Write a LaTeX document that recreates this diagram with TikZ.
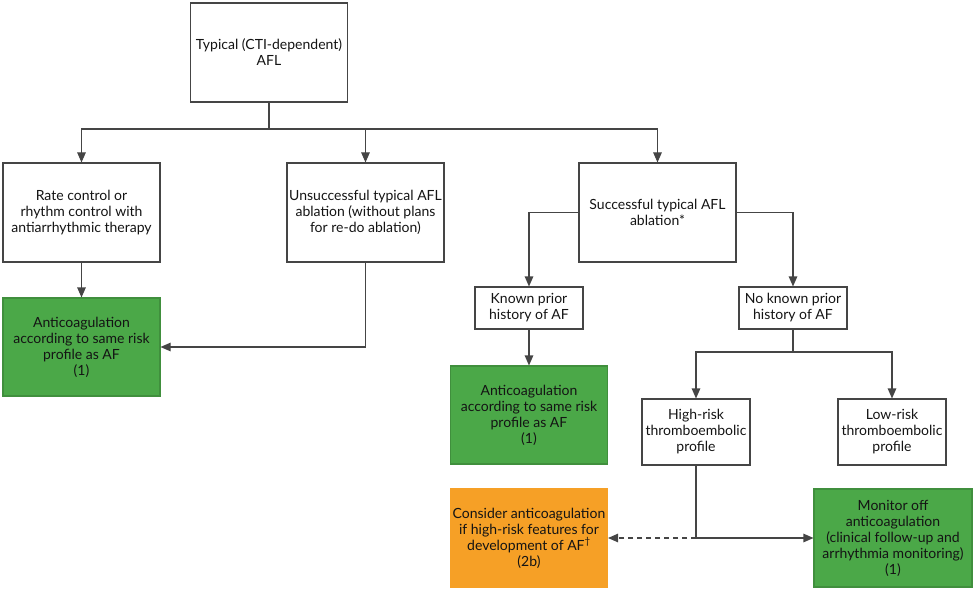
\documentclass[tikz,border=0pt]{standalone}
\usepackage{fontspec}
\setmainfont{Lato}
\usepackage{xcolor}
\definecolor{linegray}{HTML}{454545}
\definecolor{recgreen}{HTML}{4BA848}
\definecolor{recorange}{HTML}{F6A026}
\definecolor{textdark}{HTML}{141414}
\usetikzlibrary{arrows.meta,positioning}

\begin{document}
\begin{tikzpicture}[
    x=1pt, y=-1pt,
    box/.style={rectangle, draw=linegray, fill=white, text=textdark, line width=1.1pt, align=center, font=\fontsize{14}{16}\selectfont, inner sep=2pt},
    wide/.style={box, minimum width=157pt, minimum height=99pt},
    small/.style={box, minimum width=108pt},
    green/.style={wide, fill=recgreen, draw=recgreen!85!black},
    orange/.style={wide, fill=recorange, draw=recorange},
    arr/.style={draw=linegray, line width=1.1pt, -{Triangle[length=10pt,width=8.5pt]}},
    link/.style={draw=linegray, line width=1.1pt},
  ]
    \useasboundingbox (0,0) rectangle (975,591);
    % top level
    \node[wide] (top) at (269,52.5) {Typical (CTI-dependent)\\AFL};
    \node[wide] (rate) at (81.5,212.5) {Rate control or\\rhythm control with\\antiarrhythmic therapy};
    \node[wide] (unsucc) at (365.5,212.5) {Unsuccessful typical AFL\\ablation (without plans\\for re-do ablation)};
    \node[wide] (succ) at (657.5,212.5) {Successful typical AFL\\ablation*};
    \node[green, minimum height=98pt] (anticoagA) at (81.5,347) {Anticoagulation\\according to same risk\\profile as AF\\(1)};
    % after successful ablation
    \node[small, minimum height=42pt] (known) at (529,308) {Known prior\\history of AF};
    \node[small, minimum height=42pt] (noknown) at (793,308) {No known prior\\history of AF};
    \node[green, minimum height=98pt] (anticoagB) at (529,415) {Anticoagulation\\according to same risk\\profile as AF\\(1)};
    \node[small, minimum height=66pt] (highrisk) at (696,432) {High-risk\\thromboembolic\\profile};
    \node[small, minimum height=66pt] (lowrisk) at (892,432) {Low-risk\\thromboembolic\\profile};
    \node[orange, minimum height=98pt] (consider) at (529,538) {Consider anticoagulation\\if high-risk features for\\development of AF\textsuperscript{\textdagger}\\(2b)};
    \node[green, minimum height=98pt, minimum width=158pt] (monitor) at (893,538) {Monitor off\\anticoagulation\\(clinical follow-up and\\arrhythmia monitoring)\\(1)};
    % Connectors
    \coordinate (split) at (269,129);
    \coordinate (nksplit) at (793,352);
    \coordinate (hrsplit) at (696,538);
    \draw[link] (top.south) -- (split);
    \draw[arr] (split) -| (rate.north);
    \draw[arr] (split) -| (unsucc.north);
    \draw[arr] (split) -| (succ.north);
    \draw[arr] (rate.south) -- (anticoagA.north);
    \draw[arr] (unsucc.south) |- (anticoagA.east);
    \draw[arr] (succ.west) -| (known.north);
    \draw[arr] (succ.east) -| (noknown.north);
    \draw[arr] (known.south) -- (anticoagB.north);
    \draw[link] (noknown.south) -- (nksplit);
    \draw[arr] (nksplit) -| (highrisk.north);
    \draw[arr] (nksplit) -| (lowrisk.north);
    \draw[link] (highrisk.south) -- (hrsplit);
    \draw[arr] (hrsplit) -- (monitor.west);
    \draw[arr, dash pattern=on 5pt off 4pt] (hrsplit) -- (consider.east);
  \end{tikzpicture}
\end{document}
